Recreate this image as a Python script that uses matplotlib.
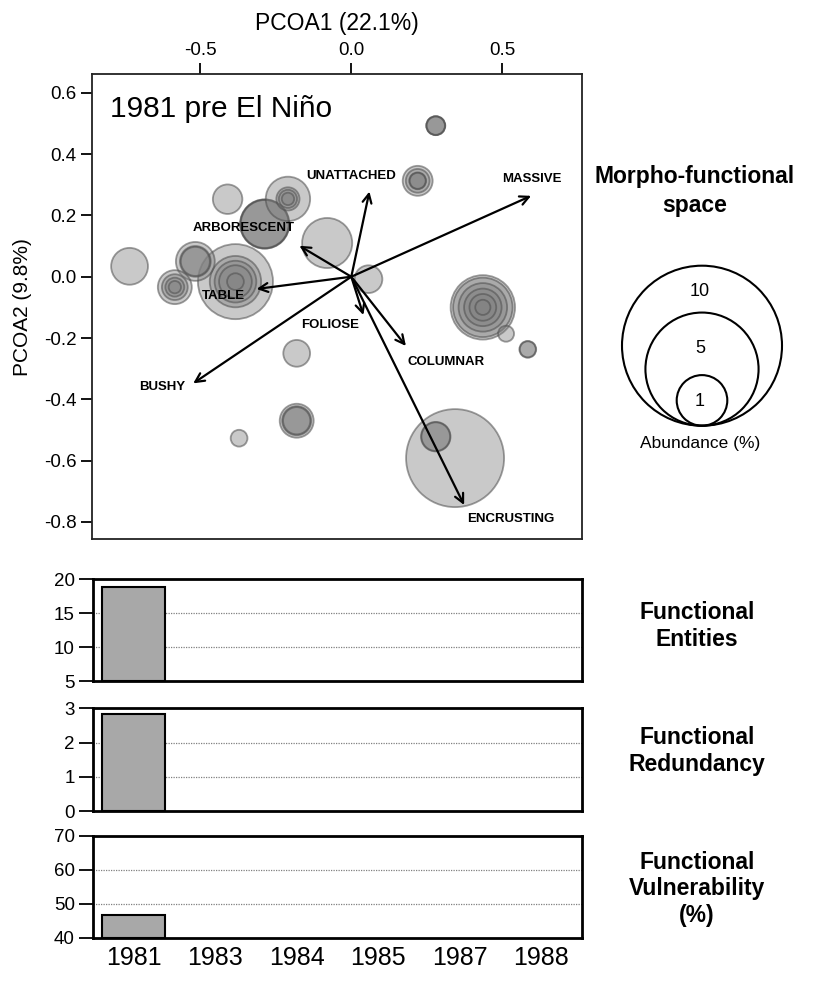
import numpy as np
import matplotlib
matplotlib.use("Agg")
import matplotlib.pyplot as plt

plt.rcParams['font.family'] = ['Liberation Sans', 'DejaVu Sans']

# ---------------- data ----------------
# functional entities: PCoA coordinates and abundance (%)
fe_x = [0.280, 0.280, 0.280,
        0.220, 0.220, 0.220, 0.220,
        -0.410,
        -0.210, -0.210, -0.210, -0.210,
        -0.287, -0.287, -0.287,
        -0.080,
        0.057,
        -0.735,
        -0.517, -0.517, -0.517,
        -0.585, -0.585, -0.585, -0.585,
        -0.384, -0.384, -0.384, -0.384, -0.384,
        0.436, 0.436, 0.436, 0.436, 0.436, 0.436,
        0.513,
        0.585, 0.585,
        -0.181,
        -0.181, -0.181, -0.181,
        -0.372,
        0.344,
        0.280, 0.280]
fe_y = [0.493, 0.493, 0.493,
        0.313, 0.313, 0.313, 0.313,
        0.253,
        0.254, 0.254, 0.254, 0.254,
        0.172, 0.172, 0.172,
        0.110,
        -0.008,
        0.034,
        0.050, 0.050, 0.050,
        -0.034, -0.034, -0.034, -0.034,
        -0.016, -0.016, -0.016, -0.016, -0.016,
        -0.100, -0.100, -0.100, -0.100, -0.100, -0.100,
        -0.186,
        -0.237, -0.237,
        -0.250,
        -0.470, -0.470, -0.470,
        -0.527,
        -0.592,
        -0.522, -0.522]
fe_abund = [0.14, 0.14, 0.13,
            0.35, 0.22, 0.11, 0.10,
            0.34,
            0.77, 0.21, 0.13, 0.06,
            0.95, 0.93, 0.90,
            0.98,
            0.30,
            0.53,
            0.59, 0.37, 0.33,
            0.45, 0.26, 0.14, 0.06,
            2.20, 1.03, 0.68, 0.42, 0.11,
            1.62, 1.38, 0.92, 0.55, 0.28, 0.09,
            0.10,
            0.11, 0.10,
            0.28,
            0.45, 0.33, 0.29,
            0.11,
            3.75,
            0.34, 0.32]

traits = ['UNATTACHED', 'MASSIVE', 'ARBORESCENT', 'TABLE',
          'FOLIOSE', 'COLUMNAR', 'BUSHY', 'ENCRUSTING']
trait_x = [0.060, 0.596, -0.172, -0.314, 0.040, 0.181, -0.524, 0.374]
trait_y = [0.278, 0.264, 0.101, -0.040, -0.125, -0.226, -0.348, -0.745]

legend_abund = [10, 5, 1]

years = ['1981', '1983', '1984', '1985', '1987', '1988']
fe_count = [18.8]
redundancy = [2.83]
vulnerability = [46.7]

# ---------------- layout / style ----------------
W, H = 820, 986
DPI = 100
R_PER_SQRT = 25.3  # pixel radius per sqrt(abundance)

def s_from_abund(a):
    d_pt = 2 * R_PER_SQRT * np.sqrt(np.asarray(a, float)) * 72.0 / DPI
    return d_pt ** 2

def fig_rect(x0, y0, x1, y1):
    return [x0 / W, 1 - y1 / H, (x1 - x0) / W, (y1 - y0) / H]

fig = plt.figure(figsize=(W / DPI, H / DPI), dpi=DPI)

# ---------------- morpho-functional space ----------------
ax = fig.add_axes(fig_rect(92, 74.5, 582, 539))
ax.set_xlim(-0.8595, 0.7647)
ax.set_ylim(-0.856, 0.660)

order = np.argsort(fe_abund)[::-1]
ax.scatter(np.array(fe_x)[order], np.array(fe_y)[order],
           s=s_from_abund(np.array(fe_abund)[order]),
           facecolors=(0.5, 0.5, 0.5, 0.42), edgecolors=(0.3, 0.3, 0.3, 0.55),
           linewidths=1.3, zorder=2)

label_pos = {'UNATTACHED': (0.001, 0.329), 'MASSIVE': (0.598, 0.319),
             'ARBORESCENT': (-0.358, 0.158), 'TABLE': (-0.424, -0.062),
             'FOLIOSE': (-0.071, -0.157), 'COLUMNAR': (0.313, -0.279),
             'BUSHY': (-0.626, -0.361), 'ENCRUSTING': (0.529, -0.791)}

for name, tx, ty in zip(traits, trait_x, trait_y):
    ax.annotate('', xy=(tx, ty), xytext=(0, 0),
                arrowprops=dict(arrowstyle='->', lw=1.6, color='black',
                                mutation_scale=16, shrinkA=0, shrinkB=0),
                zorder=3)
    lx, ly = label_pos[name]
    ax.text(lx, ly, name, fontsize=9.5, fontweight='bold',
            ha='center', va='center', zorder=4)

ax.text(0.037, 0.909, '1981 pre El Niño', transform=ax.transAxes,
        fontsize=21.5, ha='left', va='baseline')

ax.xaxis.tick_top()
ax.xaxis.set_label_position('top')
ax.set_xticks([-0.5, 0.0, 0.5])
ax.set_xticklabels(['-0.5', '0.0', '0.5'])
ax.set_yticks([0.6, 0.4, 0.2, 0.0, -0.2, -0.4, -0.6, -0.8])
ax.set_yticklabels(['0.6', '0.4', '0.2', '0.0', '-0.2', '-0.4', '-0.6', '-0.8'])
ax.tick_params(axis='both', direction='out', length=8, width=1.3,
               labelsize=13.5, pad=3)
ax.set_xlabel('PCOA1 (22.1%)', fontsize=16.5, labelpad=9)
ax.set_ylabel('PCOA2 (9.8%)', fontsize=15, labelpad=9)
for sp in ax.spines.values():
    sp.set_linewidth(1.3)
    sp.set_color('#222222')

# ---------------- abundance legend ----------------
lax = fig.add_axes(fig_rect(600, 250, 800, 460))
lax.set_xlim(600, 800)
lax.set_ylim(460, 250)
lax.axis('off')
bottom_y = 425.7
for a in legend_abund:
    r = R_PER_SQRT * np.sqrt(a)
    lax.scatter([702], [bottom_y - r], s=s_from_abund(a), facecolors='none',
                edgecolors='black', linewidths=1.5, clip_on=False)
lax.text(700, 291.7, str(legend_abund[0]), fontsize=13, ha='center', va='center')
lax.text(700, 348.3, str(legend_abund[1]), fontsize=13, ha='center', va='center')
lax.text(700, 401.7, str(legend_abund[2]), fontsize=13, ha='center', va='center')
lax.text(700, 443.3, 'Abundance (%)', fontsize=12.5, ha='center', va='center')

fig.text(695 / W, 1 - 191 / H, 'Morpho-functional\nspace', fontsize=16.5,
         fontweight='bold', ha='center', va='center', linespacing=1.3)

# ---------------- bar panels ----------------
panels = [
    (fig_rect(93, 579.3, 582, 681), fe_count, (5, 20), [5, 10, 15, 20], [10, 15],
     'Functional\nEntities', 626),
    (fig_rect(93, 708.3, 582, 811), redundancy, (0, 3), [0, 1, 2, 3], [1, 2],
     'Functional\nRedundancy', 751),
    (fig_rect(93, 835.7, 582, 937.7), vulnerability, (40, 70), [40, 50, 60, 70], [50, 60],
     'Functional\nVulnerability\n(%)', 889),
]
xs = np.arange(len(years))
for i, (rect, vals, ylim, yt, grid, lab, ly) in enumerate(panels):
    bx = fig.add_axes(rect)
    bx.set_xlim(-0.5, len(years) - 0.5)
    bx.set_ylim(*ylim)
    for g in grid:
        bx.axhline(g, color='#808080', lw=0.9, ls=(0, (1, 1)), zorder=0)
    bx.bar(xs[:len(vals)], np.array(vals) - ylim[0], bottom=ylim[0], width=0.77,
           color='#a8a8a8', edgecolor='black', linewidth=1.5, zorder=2)
    bx.set_yticks(yt)
    bx.set_yticklabels([str(v) for v in yt])
    bx.tick_params(axis='y', direction='out', length=10, width=1.3,
                   labelsize=13.5, pad=3)
    bx.set_xticks(xs)
    if i == len(panels) - 1:
        bx.set_xticklabels(years)
        bx.tick_params(axis='x', length=0, labelsize=18, pad=6)
    else:
        bx.set_xticklabels([])
        bx.tick_params(axis='x', length=0)
    for sp in bx.spines.values():
        sp.set_linewidth(2.0)
    fig.text(697 / W, 1 - ly / H, lab, fontsize=16.5, fontweight='bold',
             ha='center', va='center', linespacing=1.2)

fig.savefig('out.png', dpi=DPI)
